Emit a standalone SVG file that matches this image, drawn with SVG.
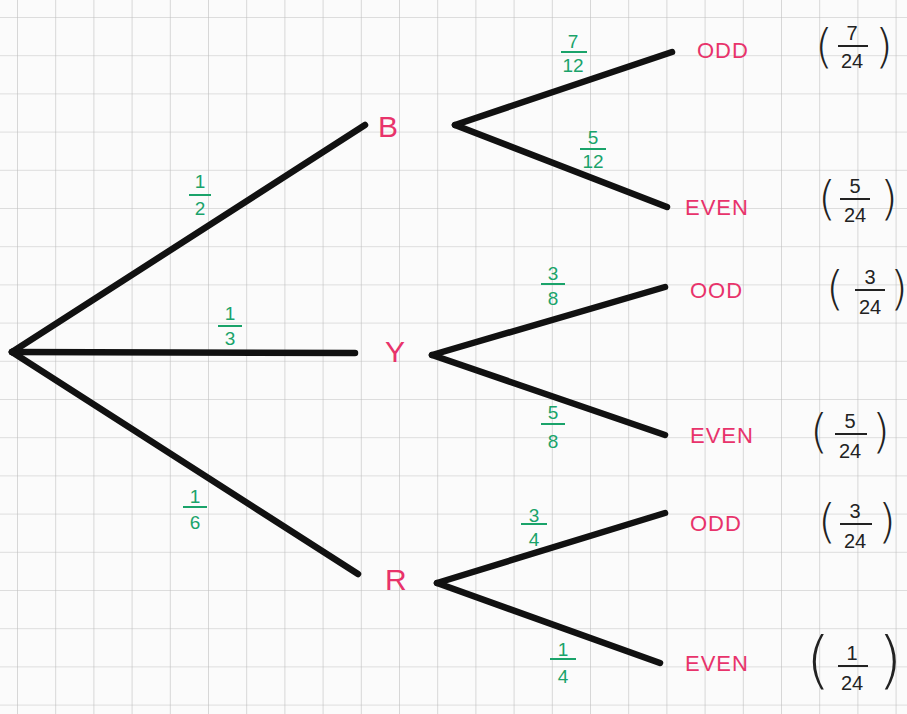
<svg xmlns="http://www.w3.org/2000/svg" width="907" height="714" viewBox="0 0 907 714">
<style>
.br{stroke:#111;stroke-width:6.5;stroke-linecap:round;fill:none}
.lbl{font-family:"Liberation Sans",Arial,sans-serif;fill:#e8336b}
.node{font-size:30px}
.out{font-size:22px;letter-spacing:1px}
.g{font-family:"Liberation Sans",Arial,sans-serif;fill:#1aa36a;font-size:19px;text-anchor:middle}
.gbar{stroke:#1aa36a;stroke-width:2}
.p{font-family:"Liberation Sans",Arial,sans-serif;fill:#222;font-size:20px;text-anchor:middle}
.pbar{stroke:#222;stroke-width:2}
.par{font-family:"DejaVu Sans","Liberation Sans",sans-serif;fill:#222;font-size:46px;font-weight:200}
</style>
<defs>
<pattern id="grid" x="17" y="17" width="38.2" height="38.2" patternUnits="userSpaceOnUse">
<path d="M0 0H38.2M0 0V38.2" stroke="#bfbfbf" stroke-width="1.2" fill="none"/>
</pattern>
</defs>
<rect width="907" height="714" fill="#fbfbfb"/>
<rect width="907" height="714" fill="url(#grid)"/>
<g id="connectors">
<path class="br" d="M12 352L365 125"/>
<path class="br" d="M12 352L355 353"/>
<path class="br" d="M12 352L358 574"/>
<path class="br" d="M455 125L672 52"/>
<path class="br" d="M455 125L667 207"/>
<path class="br" d="M432 355L665 287"/>
<path class="br" d="M432 355L665 435"/>
<path class="br" d="M437 583L665 513"/>
<path class="br" d="M437 583L660 663"/>
<g id="lbl-B">
<text class="g" x="200" y="188">1</text><line class="gbar" x1="189" y1="195" x2="211" y2="195"/><text class="g" x="200" y="215">2</text>
</g>
<g id="lbl-Y">
<text class="g" x="230" y="320">1</text><line class="gbar" x1="218" y1="326" x2="242" y2="326"/><text class="g" x="230" y="345">3</text>
</g>
<g id="lbl-R">
<text class="g" x="195" y="503">1</text><line class="gbar" x1="183" y1="507" x2="207" y2="507"/><text class="g" x="195" y="529">6</text>
</g>
<g id="lbl-BO">
<text class="g" x="573" y="48">7</text><line class="gbar" x1="561" y1="52" x2="587" y2="52"/><text class="g" x="573" y="72">12</text>
</g>
<g id="lbl-BE">
<text class="g" x="593" y="144">5</text><line class="gbar" x1="580" y1="149" x2="606" y2="149"/><text class="g" x="593" y="168">12</text>
</g>
<g id="lbl-YO">
<text class="g" x="553" y="280">3</text><line class="gbar" x1="541" y1="284" x2="565" y2="284"/><text class="g" x="553" y="305">8</text>
</g>
<g id="lbl-YE">
<text class="g" x="553" y="419">5</text><line class="gbar" x1="541" y1="424" x2="565" y2="424"/><text class="g" x="553" y="448">8</text>
</g>
<g id="lbl-RO">
<text class="g" x="534" y="522">3</text><line class="gbar" x1="521" y1="524" x2="547" y2="524"/><text class="g" x="534" y="546">4</text>
</g>
<g id="lbl-RE">
<text class="g" x="563" y="656">1</text><line class="gbar" x1="550" y1="659" x2="576" y2="659"/><text class="g" x="563" y="683">4</text>
</g>
</g>
<g id="root"><circle cx="12" cy="352" r="3" fill="#111"/></g>
<g id="B"><text class="lbl node" x="378" y="137">B</text></g>
<g id="Y"><text class="lbl node" x="385" y="362">Y</text></g>
<g id="R"><text class="lbl node" x="385" y="590">R</text></g>
<g id="BO">
<text class="lbl out" x="697" y="58">ODD</text>
<text class="par" x="815" y="62">(</text><text class="p" x="852" y="40">7</text><line class="pbar" x1="838" y1="46" x2="868" y2="46"/><text class="p" x="852" y="68">24</text><text class="par" x="875" y="62">)</text>
</g>
<g id="BE">
<text class="lbl out" x="685" y="215">EVEN</text>
<text class="par" x="818" y="214">(</text><text class="p" x="855" y="193">5</text><line class="pbar" x1="840" y1="199" x2="870" y2="199"/><text class="p" x="855" y="222">24</text><text class="par" x="880" y="214">)</text>
</g>
<g id="YO">
<text class="lbl out" x="690" y="298">OOD</text>
<text class="par" x="826" y="304">(</text><text class="p" x="870" y="284">3</text><line class="pbar" x1="855" y1="290" x2="885" y2="290"/><text class="p" x="870" y="314">24</text><text class="par" x="890" y="304">)</text>
</g>
<g id="YE">
<text class="lbl out" x="690" y="443">EVEN</text>
<text class="par" x="810" y="447">(</text><text class="p" x="850" y="428">5</text><line class="pbar" x1="835" y1="434" x2="867" y2="434"/><text class="p" x="850" y="458">24</text><text class="par" x="872" y="447">)</text>
</g>
<g id="RO">
<text class="lbl out" x="690" y="531">ODD</text>
<text class="par" x="818" y="537">(</text><text class="p" x="855" y="518">3</text><line class="pbar" x1="840" y1="524" x2="872" y2="524"/><text class="p" x="855" y="548">24</text><text class="par" x="878" y="537">)</text>
</g>
<g id="RE">
<text class="lbl out" x="685" y="671">EVEN</text>
<text class="par" x="806" y="681" style="font-size:62px">(</text><text class="p" x="852" y="660">1</text><line class="pbar" x1="838" y1="666" x2="868" y2="666"/><text class="p" x="852" y="690">24</text><text class="par" x="878" y="681" style="font-size:62px">)</text>
</g>
</svg>
